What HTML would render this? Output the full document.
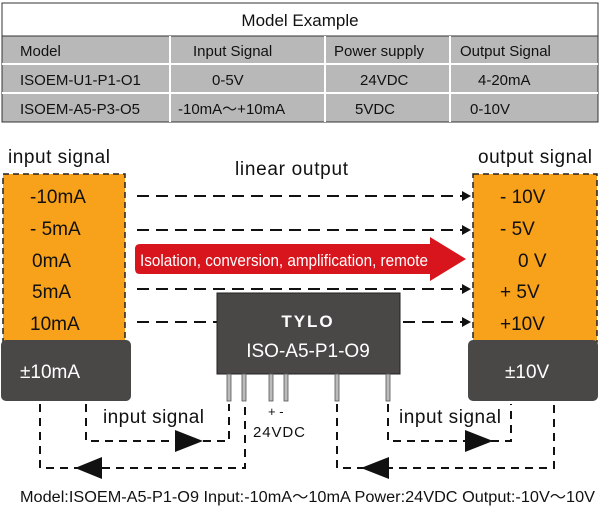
<!DOCTYPE html>
<html><head><meta charset="utf-8"><style>
html,body{margin:0;padding:0;background:#fff;}
svg{display:block;font-family:"Liberation Sans",Arial,sans-serif;}
</style></head><body>
<svg width="600" height="508" viewBox="0 0 600 508" xmlns="http://www.w3.org/2000/svg">
<rect x="2" y="3" width="596" height="33" fill="#fff" stroke="#333" stroke-width="1"/>
<rect x="2" y="36" width="596" height="86" fill="#b8b8b8" stroke="#333" stroke-width="1"/>
<line x1="2" y1="64" x2="598" y2="64" stroke="#fff" stroke-width="2"/>
<line x1="2" y1="93" x2="598" y2="93" stroke="#fff" stroke-width="2"/>
<line x1="170" y1="36" x2="170" y2="122" stroke="#fff" stroke-width="2"/>
<line x1="325" y1="36" x2="325" y2="122" stroke="#fff" stroke-width="2"/>
<line x1="450" y1="36" x2="450" y2="122" stroke="#fff" stroke-width="2"/>
<g font-size="15" fill="#111">
<text x="300" y="26" text-anchor="middle" font-size="17">Model Example</text>
<text x="20" y="56">Model</text><text x="193" y="56">Input Signal</text><text x="334" y="56">Power supply</text><text x="460" y="56">Output Signal</text>
<text x="20" y="85">ISOEM-U1-P1-O1</text><text x="212" y="85">0-5V</text><text x="360" y="85">24VDC</text><text x="478" y="85">4-20mA</text>
<text x="20" y="114">ISOEM-A5-P3-O5</text><text x="178" y="114">-10mA～+10mA</text><text x="355" y="114">5VDC</text><text x="470" y="114">0-10V</text>
</g>
<g font-size="19" fill="#111">
<text x="8" y="163" textLength="102">input signal</text>
<text x="478" y="163" textLength="114">output signal</text>
<text x="235" y="175" textLength="113">linear output</text>
</g>
<rect x="3" y="174" width="122" height="168" fill="#f8a11a" stroke="#222" stroke-dasharray="6,4" stroke-width="1.5"/>
<rect x="473" y="174" width="124" height="168" fill="#f8a11a" stroke="#222" stroke-dasharray="6,4" stroke-width="1.5"/>
<rect x="1" y="340" width="130" height="61" rx="5" fill="#4a4747"/>
<rect x="468" y="340" width="130" height="61" rx="5" fill="#4a4747"/>
<g font-size="19" fill="#111">
<text x="30" y="203">-10mA</text><text x="30" y="235">- 5mA</text><text x="32" y="267">0mA</text><text x="32" y="298">5mA</text><text x="30" y="330">10mA</text>
<text x="500" y="203">- 10V</text><text x="500" y="235">-  5V</text><text x="518" y="267">0 V</text><text x="500" y="298">+ 5V</text><text x="500" y="330">+10V</text>
</g>
<text x="20" y="378" font-size="19" fill="#fff">±10mA</text>
<text x="505" y="378" font-size="19" fill="#fff">±10V</text>
<g stroke="#111" stroke-width="2" stroke-dasharray="12,7">
<line x1="137" y1="196" x2="463" y2="196"/>
<line x1="137" y1="230" x2="463" y2="230"/>
<line x1="137" y1="289" x2="463" y2="289"/>
<line x1="137" y1="322" x2="463" y2="322"/>
</g>
<g fill="#111">
<polygon points="462,191 471,196 462,201"/><polygon points="462,225 471,230 462,235"/>
<polygon points="462,284 471,289 462,294"/><polygon points="462,317 471,322 462,327"/>
</g>
<path d="M140,244 H430 V237 L466,259 L430,281 V274 H140 Q135,274 135,269 V249 Q135,244 140,244 Z" fill="#d8141c"/>
<text x="140" y="266" font-size="16.5" fill="#fff" textLength="288" lengthAdjust="spacingAndGlyphs">Isolation, conversion, amplification, remote</text>
<rect x="217" y="293" width="183" height="81" fill="#4a4747" stroke="#222"/>
<text x="308" y="327" font-size="17" fill="#fff" text-anchor="middle" font-weight="bold" letter-spacing="2">TYLO</text>
<text x="308" y="357" font-size="19" fill="#fff" text-anchor="middle">ISO-A5-P1-O9</text>
<g fill="#bbb" stroke="#555" stroke-width="0.8">
<rect x="227" y="374" width="4" height="27"/><rect x="242" y="374" width="4" height="27"/>
<rect x="269" y="374" width="4" height="27"/><rect x="284" y="374" width="4" height="27"/>
<rect x="335" y="374" width="4" height="27"/><rect x="386" y="374" width="4" height="27"/>
</g>
<g stroke="#111" stroke-width="2" fill="none" stroke-dasharray="8,6">
<polyline points="40,404 40,468 245,468 245,404"/>
<polyline points="86,404 86,441 229,441 229,404"/>
<polyline points="337,404 337,468 554,468 554,404"/>
<polyline points="388,404 388,441 511,441 511,404"/>
</g>
<g fill="#111">
<polygon points="175,430 203,441 175,452"/>
<polygon points="102,457 75,468 102,479"/>
<polygon points="465,430 493,441 465,452"/>
<polygon points="389,457 361,468 389,479"/>
</g>
<g font-size="19" fill="#111">
<text x="103" y="423" textLength="101">input signal</text>
<text x="399" y="423" textLength="102">input signal</text>
</g>
<text x="268" y="416" font-size="13" fill="#111">+ -</text>
<text x="253" y="437" font-size="15" fill="#111" textLength="52">24VDC</text>
<text x="20" y="502" font-size="15.5" fill="#111" textLength="575" lengthAdjust="spacingAndGlyphs">Model:ISOEM-A5-P1-O9  Input:-10mA～10mA  Power:24VDC  Output:-10V～10V</text>
</svg>
</body></html>
